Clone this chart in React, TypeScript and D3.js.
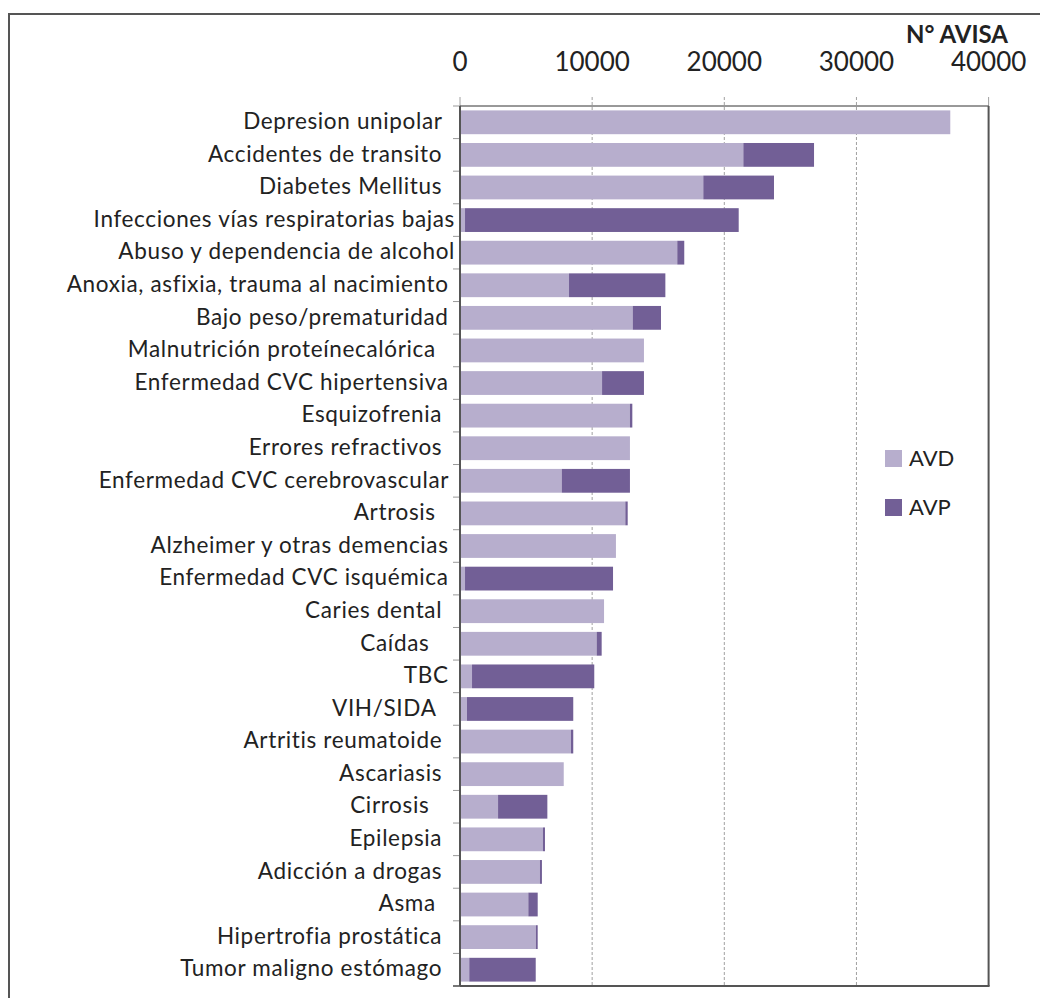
import React, { useEffect, useRef } from 'react';
import * as d3 from 'd3';

// categories as they appear in the chart (trailing spaces kept from the source labels)
const causes = [
  'Depresion unipolar  ',
  'Accidentes de transito  ',
  'Diabetes Mellitus  ',
  'Infecciones vías respiratorias bajas',
  'Abuso y dependencia de alcohol',
  'Anoxia, asfixia, trauma al nacimiento ',
  'Bajo peso/prematuridad ',
  'Malnutrición proteínecalórica   ',
  'Enfermedad CVC hipertensiva ',
  'Esquizofrenia  ',
  'Errores refractivos  ',
  'Enfermedad CVC cerebrovascular ',
  'Artrosis   ',
  'Alzheimer y otras demencias ',
  'Enfermedad CVC isquémica ',
  'Caries dental  ',
  'Caídas    ',
  'TBC ',
  'VIH/SIDA   ',
  'Artritis reumatoide  ',
  'Ascariasis  ',
  'Cirrosis    ',
  'Epilepsia  ',
  'Adicción a drogas  ',
  'Asma   ',
  'Hipertrofia prostática  ',
  'Tumor maligno estómago  ',
];

const avd = [37100, 21440, 18410, 380, 16440, 8250, 13070, 13920, 10750, 12860, 12860, 7700, 12510, 11800,
  380, 10900, 10340, 910, 530, 8400, 7850, 2880, 6280, 6050, 5170, 5750, 700];
const avp = [0, 5350, 5350, 20710, 530, 7290, 2140, 0, 3170, 180, 0, 5160, 180, 0,
  11200, 0, 380, 9250, 8040, 170, 0, 3730, 150, 150, 710, 130, 5030];

const seriesKeys = ['AVD', 'AVP'];
const colors = ['#b7aecd', '#725f96'];
const xTicks = [0, 10000, 20000, 30000, 40000];

const App = () => {
  const svgRef = useRef(null);
  const width = 1040, height = 998;
  const left = 460, right = 988.6, top = 106, bottom = 986;

  useEffect(() => {
    const svg = d3.select(svgRef.current);
    svg.selectAll('*').remove();

    const rows = causes.map((c, i) => ({ cause: c, AVD: avd[i], AVP: avp[i] }));
    const stacked = d3.stack().keys(seriesKeys)(rows);

    const x = d3.scaleLinear().domain([0, 40000]).range([left, right]);
    const y = d3.scaleBand().domain(causes).range([top, bottom]).paddingInner(0.27).paddingOuter(0.135);
    const step = y.step();

    // outer frame (cut off on the right and bottom)
    svg.append('path')
      .attr('d', `M1040,14 H9 V998`)
      .attr('fill', 'none')
      .attr('stroke', '#555')
      .attr('stroke-width', 2);

    // vertical gridlines
    svg.append('g')
      .selectAll('line')
      .data(xTicks.slice(1, -1))
      .join('line')
        .attr('x1', d => x(d)).attr('x2', d => x(d))
        .attr('y1', top - 9).attr('y2', bottom)
        .attr('stroke', '#a0a0a0')
        .attr('stroke-dasharray', '3,2')
        .attr('stroke-width', 1);

    // small top ticks at 0 and 40000
    svg.append('g')
      .selectAll('line')
      .data([0, 40000])
      .join('line')
        .attr('x1', d => x(d)).attr('x2', d => x(d))
        .attr('y1', top - 9).attr('y2', top)
        .attr('stroke', '#a0a0a0')
        .attr('stroke-width', 1);

    // bars
    svg.append('g')
      .selectAll('g')
      .data(stacked)
      .join('g')
        .attr('fill', (d, i) => colors[i])
      .selectAll('rect')
      .data(d => d)
      .join('rect')
        .attr('x', d => x(d[0]))
        .attr('y', d => y(d.data.cause))
        .attr('width', d => Math.max(0, x(d[1]) - x(d[0])))
        .attr('height', y.bandwidth());

    // plot box: top, right, bottom
    svg.append('line')
      .attr('x1', left).attr('x2', right)
      .attr('y1', top).attr('y2', top)
      .attr('stroke', '#333').attr('stroke-width', 1);
    svg.append('line')
      .attr('x1', right).attr('x2', right)
      .attr('y1', top).attr('y2', bottom)
      .attr('stroke', '#555').attr('stroke-width', 2);
    svg.append('line')
      .attr('x1', left - 7).attr('x2', right + 1)
      .attr('y1', bottom).attr('y2', bottom)
      .attr('stroke', '#555').attr('stroke-width', 2);

    // left axis with ticks between categories
    svg.append('g')
      .selectAll('line')
      .data(d3.range(causes.length + 1))
      .join('line')
        .attr('x1', left - 7).attr('x2', left)
        .attr('y1', i => top + i * step).attr('y2', i => top + i * step)
        .attr('stroke', '#999')
        .attr('stroke-width', 1);
    svg.append('line')
      .attr('x1', left).attr('x2', left)
      .attr('y1', top).attr('y2', bottom)
      .attr('stroke', '#555').attr('stroke-width', 2);

    // category labels
    svg.append('g')
      .selectAll('text')
      .data(causes)
      .join('text')
        .attr('x', 455)
        .attr('y', d => y(d) + y.bandwidth() / 2)
        .attr('dy', '0.3em')
        .attr('text-anchor', 'end')
        .style('white-space', 'pre')
        .attr('font-family', 'Lato, sans-serif')
        .attr('font-size', 22.5)
        .attr('letter-spacing', 0.65)
        .attr('fill', '#222')
        .text(d => d);

    // x tick labels
    svg.append('g')
      .selectAll('text')
      .data(xTicks)
      .join('text')
        .attr('x', d => x(d))
        .attr('y', 71)
        .attr('text-anchor', 'middle')
        .attr('font-family', 'Lato, sans-serif')
        .attr('font-size', 26)
        .attr('fill', '#222')
        .text(d => d);

    svg.append('text')
      .attr('x', 1008)
      .attr('y', 43)
      .attr('text-anchor', 'end')
      .attr('font-family', 'Lato, sans-serif')
      .attr('font-weight', 'bold')
      .attr('font-size', 24)
      .attr('fill', '#222')
      .text('N° AVISA');

    // legend
    const legend = svg.append('g')
      .selectAll('g')
      .data(seriesKeys)
      .join('g')
        .attr('transform', (d, i) => `translate(885,${450 + i * 49})`);
    legend.append('rect')
      .attr('width', 17).attr('height', 17)
      .attr('fill', (d, i) => colors[i]);
    legend.append('text')
      .attr('x', 24)
      .attr('y', 16)
      .attr('font-family', 'Lato, sans-serif')
      .attr('font-size', 22)
      .attr('fill', '#222')
      .text(d => d);
  }, []);

  return (
    <svg ref={svgRef} width={width} height={height}
      style={{ position: 'absolute', left: 0, top: 0, background: '#fff' }} />
  );
};

export default App;
